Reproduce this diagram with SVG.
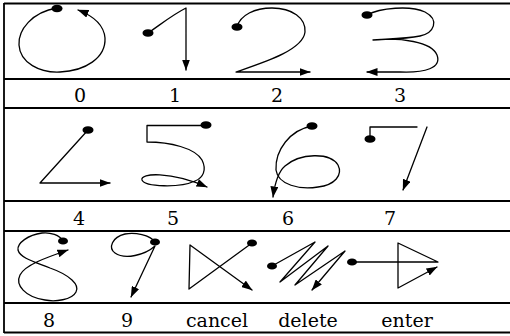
<svg xmlns="http://www.w3.org/2000/svg" width="510" height="336" viewBox="0 0 510 336">
<defs>
<marker id="ah" viewBox="0 0 11 8" refX="10.5" refY="4" markerWidth="11" markerHeight="8" markerUnits="userSpaceOnUse" orient="auto">
<path d="M0,0 L11,4 L0,8 z" fill="#000"/>
</marker>
<style>
.grid{stroke:#000;stroke-width:1.8;fill:none}
.s{stroke:#000;stroke-width:1.3;fill:none;stroke-linejoin:round;stroke-linecap:round}
.a{marker-end:url(#ah)}
.dot{fill:#000}
.lbl{font-family:"DejaVu Serif","Liberation Serif",serif;font-size:19px;fill:#000;text-anchor:middle}
</style>
</defs>
<rect width="510" height="336" fill="#fff"/>
<g id="frame" class="grid">
<line x1="4" y1="3.5" x2="510" y2="3.5"/>
<line x1="4" y1="79" x2="510" y2="79"/>
<line x1="4" y1="108" x2="510" y2="108"/>
<line x1="4" y1="201" x2="510" y2="201"/>
<line x1="4" y1="231" x2="510" y2="231"/>
<line x1="4" y1="303" x2="510" y2="303"/>
<line x1="4" y1="332.5" x2="510" y2="332.5"/>
<line x1="4" y1="3" x2="4" y2="333"/>
</g>
<g id="g0">
<path class="s a" d="M57,8 C32,12 18,30 19,45 C20,63 40,73 60,72 C85,71 106,58 105,38 C104,26 96,17 78,10"/>
<ellipse class="dot" cx="57" cy="8.5" rx="5.5" ry="3.8"/>
<text class="lbl" x="80" y="102">0</text>
</g>
<g id="g1">
<path class="s a" d="M148,33 C160,25 172,15 186,8 L186,70"/>
<ellipse class="dot" cx="148" cy="33" rx="5.5" ry="3.8"/>
<text class="lbl" x="175" y="102">1</text>
</g>
<g id="g2">
<path class="s a" d="M237,27 C240,15 255,8 272,8 C292,8 306,18 305,32 C303,50 265,62 236,72 L310,72"/>
<ellipse class="dot" cx="237" cy="27" rx="5.5" ry="3.8"/>
<text class="lbl" x="277" y="102">2</text>
</g>
<g id="g3">
<path class="s a" d="M367,15 C380,8 410,5 425,12 C440,20 434,33 420,36 C405,39 385,39 373,40 C400,37 432,42 437,55 C442,68 425,73 400,72 L367,72"/>
<ellipse class="dot" cx="367" cy="15" rx="5.5" ry="3.8"/>
<text class="lbl" x="400" y="102">3</text>
</g>
<g id="g4">
<path class="s a" d="M88,130 L40,183 L110,183"/>
<ellipse class="dot" cx="88" cy="130" rx="5.5" ry="3.8"/>
<text class="lbl" x="79" y="225">4</text>
</g>
<g id="g5">
<path class="s a" d="M205,125.5 L147,125.5 L147,142 C170,142 195,148 202,160 C207,170 203,178 195,181 C180,188 145,187 142,180 C140,173 170,171 207,187"/>
<ellipse class="dot" cx="206" cy="125" rx="5.5" ry="3.8"/>
<text class="lbl" x="173" y="225">5</text>
</g>
<g id="g6">
<path class="s a" d="M312,126 C290,130 275,150 276,170 C278,185 300,190 318,187 C335,185 343,175 338,165 C330,152 300,153 285,166 C278,172 275,182 273,197"/>
<ellipse class="dot" cx="312" cy="126" rx="5.5" ry="3.8"/>
<text class="lbl" x="288" y="225">6</text>
</g>
<g id="g7">
<path class="s" d="M370,139 L370,127 L417,127"/>
<path class="s a" d="M427,127 L403,190"/>
<ellipse class="dot" cx="370" cy="139" rx="5.5" ry="3.8"/>
<text class="lbl" x="390" y="225">7</text>
</g>
<g id="g8">
<path class="s a" d="M63,241 C60,235 50,232 42,233 C28,235 17,243 18,250 C20,258 35,262 50,268 C70,275 80,285 76,292 C72,300 55,302 45,300 C25,297 15,285 20,275 C25,265 45,258 68,250"/>
<ellipse class="dot" cx="63" cy="241" rx="5" ry="3.6"/>
<text class="lbl" x="49" y="327">8</text>
</g>
<g id="g9">
<path class="s a" d="M155,242 C150,235 135,232 125,234 C112,237 108,248 115,253 C125,260 145,255 155,246 L131,297"/>
<ellipse class="dot" cx="155" cy="242" rx="5" ry="3.6"/>
<text class="lbl" x="127" y="327">9</text>
</g>
<g id="cancel">
<path class="s a" d="M252,243 L189,289 L190,245 L252,290"/>
<ellipse class="dot" cx="252" cy="243" rx="5" ry="3.6"/>
<text class="lbl" x="217" y="327">cancel</text>
</g>
<g id="delete">
<path class="s a" d="M272,266 L315,242 L280,282 L328,246 L295,285 L345,251 L312,290"/>
<ellipse class="dot" cx="272" cy="266" rx="5" ry="3.6"/>
<text class="lbl" x="308" y="327">delete</text>
</g>
<g id="enter">
<path class="s a" d="M352,262 L438,262 L398,243 L398,288 L437,267"/>
<ellipse class="dot" cx="352" cy="262" rx="5" ry="3.6"/>
<text class="lbl" x="407" y="327">enter</text>
</g>
</svg>
